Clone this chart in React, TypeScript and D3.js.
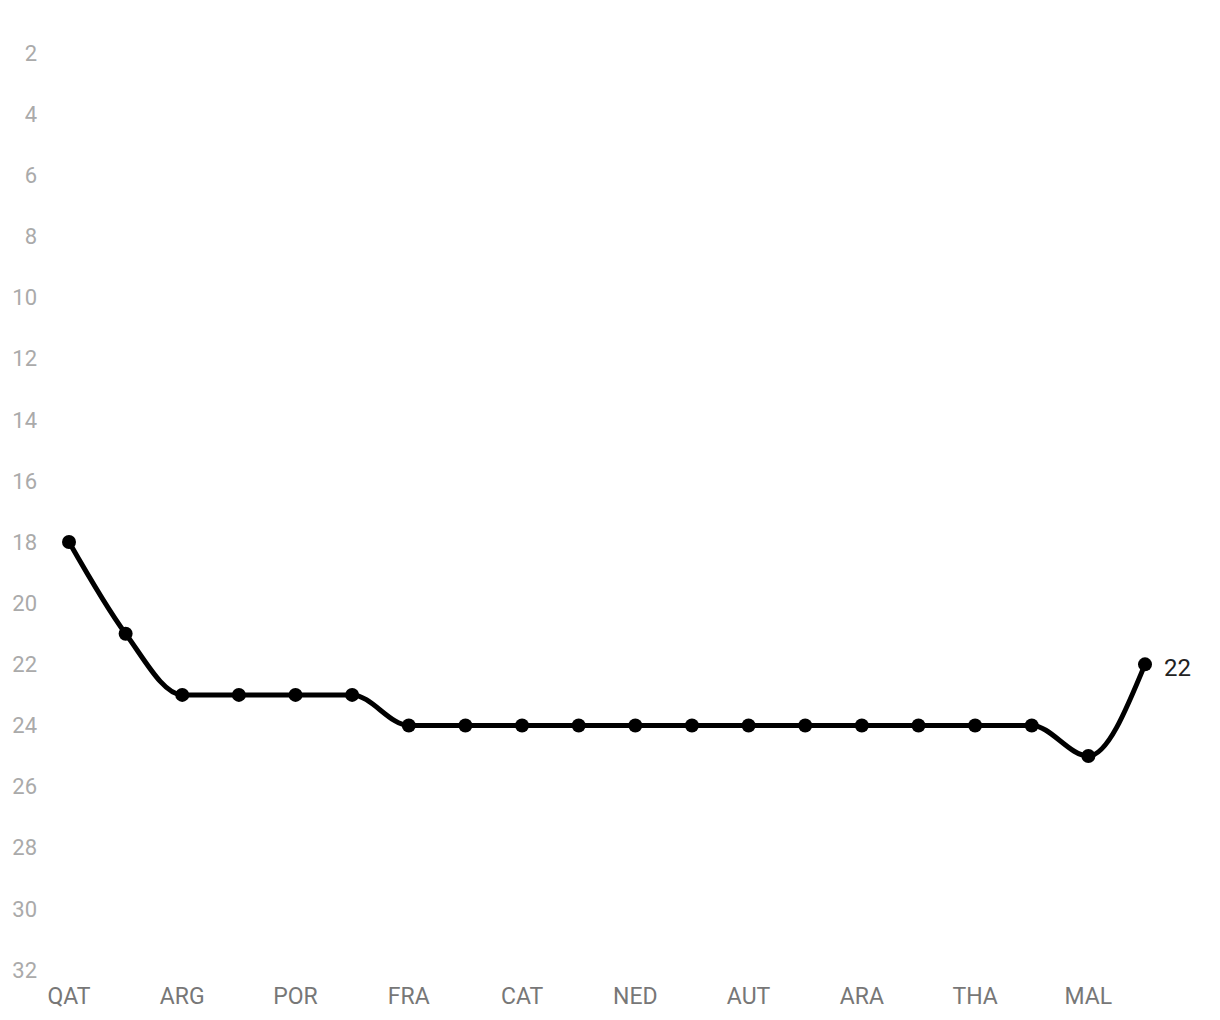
import React from "react";
import * as d3 from "d3";

const rounds = ["QAT","","ARG","","POR","","FRA","","CAT","","NED","","AUT","","ARA","","THA","","MAL",""];
const positions = [18,21,23,23,23,23,24,24,24,24,24,24,24,24,24,24,24,24,25,22];
const yTicks = [2,4,6,8,10,12,14,16,18,20,22,24,26,28,30,32];

export default function App() {
  const W = 1220, H = 1020;
  const x = d3.scaleLinear().domain([0, positions.length - 1]).range([69, 1145]);
  const y = d3.scaleLinear().domain([2, 32]).range([53, 970]);
  const line = d3.line<number>().x((_, i) => x(i)).y(d => y(d)).curve(d3.curveMonotoneX);
  const last = positions.length - 1;
  return (
    <svg width={W} height={H} style={{ position: "absolute", left: 0, top: 0 }} fontFamily="Roboto, sans-serif">
      {yTicks.map(t => (
        <text key={t} x={37} y={y(t)} dy="0.35em" textAnchor="end" fontSize={22} fill="#aaaaaa">{t}</text>
      ))}
      {rounds.map((r, i) => r ? (
        <text key={i} x={x(i)} y={1004} textAnchor="middle" fontSize={23} fill="#777777">{r}</text>
      ) : null)}
      <path d={line(positions) || ""} fill="none" stroke="#000" strokeWidth={5} />
      {positions.map((p, i) => (
        <circle key={i} cx={x(i)} cy={y(p)} r={7} fill="#000" />
      ))}
      <text x={x(last) + 19} y={y(positions[last]) + 12} fontSize={24} fill="#222">{positions[last]}</text>
    </svg>
  );
}
